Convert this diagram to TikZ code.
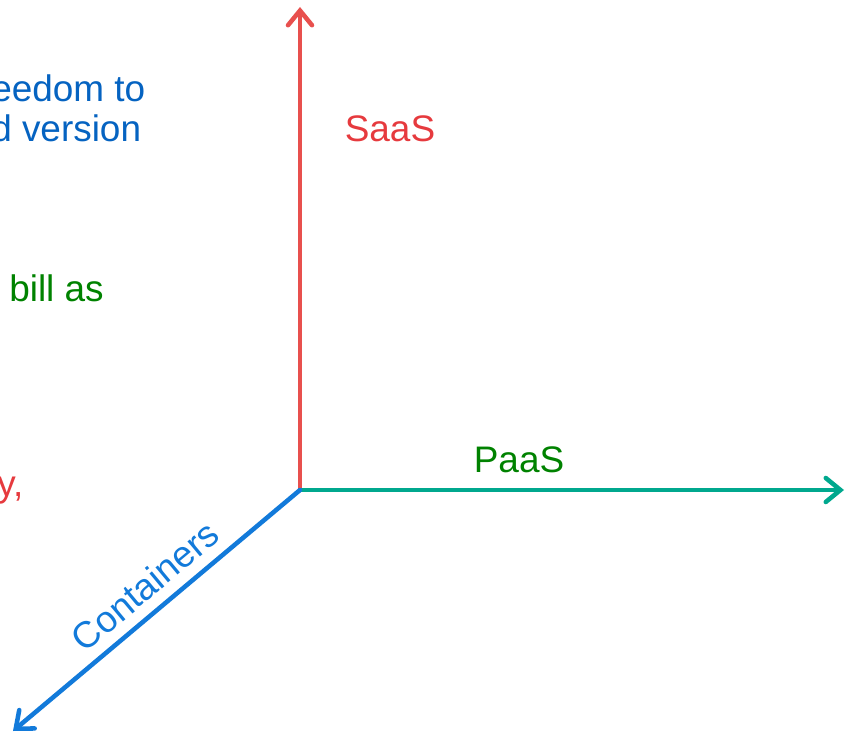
\documentclass[tikz,border=0pt]{standalone}
\usepackage{fontspec}
\setmainfont{Liberation Sans}
\usetikzlibrary{arrows.meta}

\definecolor{saasred}{RGB}{232,80,78}
\definecolor{saastext}{RGB}{230,58,62}
\definecolor{paasteal}{RGB}{0,168,142}
\definecolor{paastext}{RGB}{0,130,0}
\definecolor{contblue}{RGB}{18,122,218}
\definecolor{conttext}{RGB}{5,99,193}

\begin{document}
\begin{tikzpicture}
  [
    x = 0.75pt, y = -0.75pt,
    axis/.style = {line width = 3.4pt, line cap = round,
        -{Straight Barb[length = 11pt, width = 18pt, line cap = round]}},
    axistext/.style = {inner sep = 0pt, font = \fontsize{27.7}{33}\selectfont},
    sidetext/.style = {axistext, anchor = base west},
  ]

  \useasboundingbox (0,0) rectangle (846,734);
  \clip (0,0) rectangle (846,734);

  \coordinate (origin) at (300,490);
  \coordinate (saastop) at (300,7);
  \coordinate (paasend) at (844,490);
  \coordinate (contend) at (13,731);

  \draw[axis, saasred] (origin) -- (saastop);
  \draw[axis, paasteal] (origin) -- (paasend);
  \draw[axis, contblue] (origin) -- (contend);

  \node[axistext, text = saastext] (saas) at (390,129) {SaaS};
  \node[axistext, text = paastext] (paas) at (519,460) {PaaS};
  \node[axistext, text = contblue, rotate = 39.8] (containers) at (145,586) {Containers};

  % texts cut by the left edge
  \node[sidetext, text = conttext] (freedom) at (-9,102) {eedom to};
  \node[sidetext, text = conttext] (version) at (-9,142) {d version};
  \node[sidetext, text = paastext] (bill) at (9,301) {bill as};
  \node[sidetext, text = saastext] (comma) at (-3,496) {y,};

\end{tikzpicture}
\end{document}
